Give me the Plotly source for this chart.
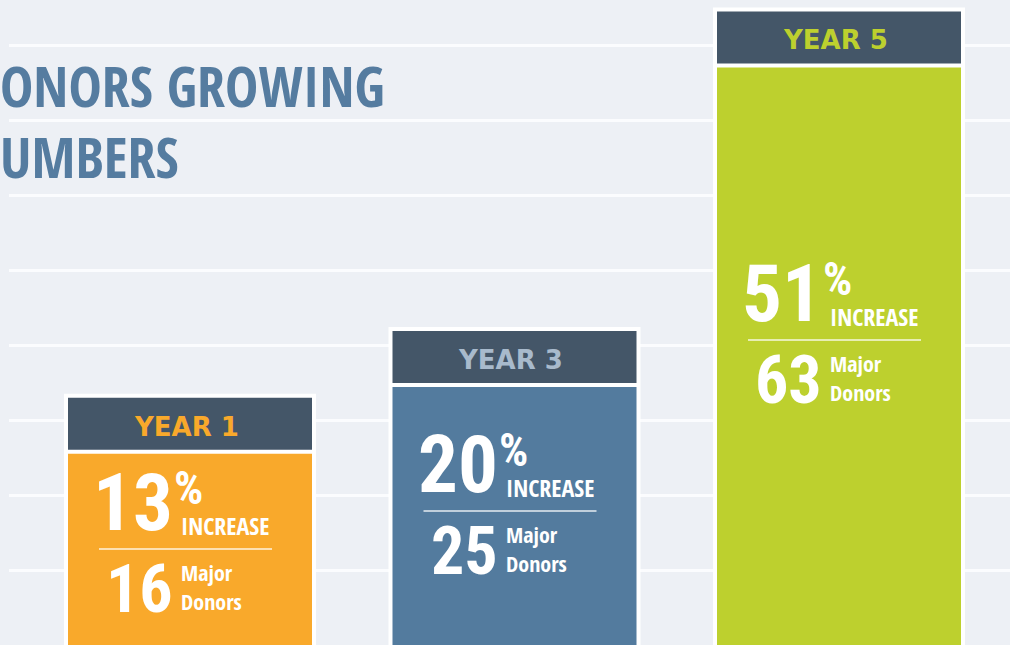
import plotly.graph_objects as go

# ---------------- data ----------------
year_labels = ["YEAR 1", "YEAR 3", "YEAR 5"]
year_num = [1, 3, 5]
increase_pct = [13, 20, 51]
major_donors = [16, 25, 63]
bar_top = [3.36, 4.25, 8.51]          # bar tops read against the gridlines (1 unit per line)
title_lines = ["ONORS GROWING", "UMBERS"]

body_colors = ["#f9a92b", "#537b9e", "#bdd02e"]
header_text_colors = ["#f9a92b", "#a8bacc", "#bdd02e"]

# ---------------- layout constants ----------------
W, H = 1010, 645
ML = 9
PX_X = 162.25
PX_Y = 75.0
x_lo = 1 - (190 - ML) / PX_X
x_range = [x_lo, x_lo + (W - ML) / PX_X]
y_lo = (645.7 - 645) / PX_Y
y_range = [y_lo, y_lo + H / PX_Y]
label_y = [(645.7 - p) / PX_Y for p in (549, 511, 340)]   # divider line of each label block

BG = "#edf0f5"
HEADER = "#445668"
COND = "Open Sans Condensed"
NUM = "Roboto Condensed"
HEAD_FONT = "DejaVu Sans"

fw = 252 / PX_X
iw = 244 / PX_X

fig = go.Figure()
fig.add_trace(go.Bar(x=year_num, y=[t + 0.5 for t in bar_top], base=-0.5, width=fw,
                     marker=dict(color="white", line=dict(width=0)), hoverinfo="skip"))
fig.add_trace(go.Bar(x=year_num, y=[52 / PX_Y] * 3, base=[t - 56 / PX_Y for t in bar_top], width=iw,
                     marker=dict(color=HEADER, line=dict(width=0)), hoverinfo="skip"))
fig.add_trace(go.Bar(x=year_num, y=[t - 60 / PX_Y + 0.5 for t in bar_top], base=-0.5, width=iw,
                     marker=dict(color=body_colors, line=dict(width=0)), hoverinfo="skip"))


def label(x, y, text, size, xanchor, xshift, yshift, weight="normal", color="white",
          family=COND, height=None, align="left"):
    d = dict(x=x, y=y, xref="x", yref="y", text=text, showarrow=False, align=align,
             xanchor=xanchor, yanchor="middle", xshift=xshift, yshift=yshift,
             borderpad=0, borderwidth=0,
             font=dict(family=family, size=size, color=color, weight=weight))
    if height is not None:
        d["height"] = height
    return d


ann = []
shapes = []
for i, xc in enumerate(year_num):
    D = label_y[i]
    ann.append(label(xc, bar_top[i] - 33 / PX_Y, year_labels[i], 26, "center", -4, 0,
                     weight="bold", color=header_text_colors[i], family=HEAD_FONT))
    ann.append(label(xc, D, str(increase_pct[i]), 79, "right", -17, 46, weight="bold", family=NUM))
    ann.append(label(xc, D, "%", 46, "left", -16, 61, weight="bold", family=NUM, height=36))
    ann.append(label(xc, D, "INCREASE", 24, "left", -9, 24, weight=500, height=22))
    ann.append(label(xc, D, str(major_donors[i]), 66, "right", -17, -40.4, weight="bold", family=NUM))
    ann.append(label(xc, D, "Major<br>Donors", 22, "left", -9, -37, weight=500))
    shapes.append(dict(type="line", xref="x", yref="y", x0=xc - 91 / PX_X, x1=xc + 82 / PX_X, y0=D, y1=D,
                       line=dict(color="rgba(255,255,255,0.85)", width=1.5)))

TITLE_FONT = dict(family=COND, size=56, color="#557ca0", weight=600)
for text, cy in zip(title_lines, (84.8, 155.8)):
    ann.append(dict(x=(-2 - ML) / (W - ML), y=1 - cy / H, xref="paper", yref="paper",
                    text=text, showarrow=False, xanchor="left", yanchor="middle", font=TITLE_FONT))

fig.update_layout(
    width=W, height=H, margin=dict(l=ML, r=0, t=0, b=0),
    paper_bgcolor=BG, plot_bgcolor=BG, barmode="overlay", showlegend=False,
    xaxis=dict(range=x_range, visible=False, fixedrange=True),
    yaxis=dict(range=y_range, showgrid=True, gridcolor="#fbfcfe", gridwidth=2.5, tick0=0, dtick=1,
               showticklabels=False, ticks="", zeroline=False, showline=False, fixedrange=True),
    annotations=ann, shapes=shapes,
)

fig.write_html("out.html")
